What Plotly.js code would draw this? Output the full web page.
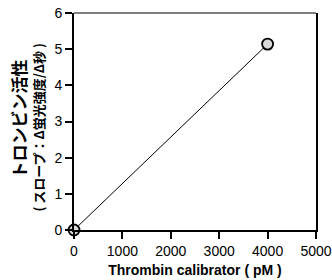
<!DOCTYPE html>
<html><head><meta charset="utf-8">
<script src="https://cdn.plot.ly/plotly-3.0.1.min.js"></script>
<style>html,body{margin:0;padding:0;background:#fff}#chart{width:332px;height:280px}</style>
</head><body><div id="chart"></div>
<script>
const xValues = [0, 4000];
const yValues = [0, 5.14];
const xTicks = [0, 1000, 2000, 3000, 4000, 5000];
const yTicks = [0, 1, 2, 3, 4, 5, 6];
const xTitle = 'Thrombin calibrator ( pM )';
const yTitle1 = 'トロンビン活性';
const yTitle2 = '( スロープ：Δ蛍光強度/Δ秒 )';

const trace = {
  x: xValues, y: yValues, type: 'scatter', mode: 'lines+markers',
  line: {color: '#000', width: 1},
  marker: {size: 11, color: '#d9d9d9', line: {color: '#000', width: 1.8}},
  cliponaxis: false, hoverinfo: 'none'
};
const fam = '"Liberation Sans", Arial, sans-serif';
const cjk = '"Noto Sans CJK JP", "Noto Sans CJK SC", sans-serif';
const layout = {
  width: 332, height: 280,
  margin: {l: 74, r: 16, t: 13, b: 50},
  paper_bgcolor: '#fff', plot_bgcolor: '#fff',
  showlegend: false, font: {family: fam, size: 14, color: '#000'},
  xaxis: {
    range: [0, 5000], tickvals: xTicks, ticktext: xTicks.map(String),
    showgrid: false, zeroline: false, showline: true, linecolor: '#000', linewidth: 2,
    ticks: 'outside', ticklen: 7, tickwidth: 2, tickcolor: '#000',
    tickfont: {family: fam, size: 14, color: '#000'},
    title: {text: '<b>' + xTitle + '</b>', font: {family: fam, size: 14, color: '#000'}, standoff: 7}
  },
  yaxis: {
    range: [0, 6], tickvals: yTicks, ticktext: yTicks.map(String),
    showgrid: false, zeroline: false, showline: true, linecolor: '#000', linewidth: 2, mirror: true,
    ticks: 'outside', ticklen: 7, tickwidth: 2, tickcolor: '#000',
    tickfont: {family: fam, size: 14, color: '#000'}
  },
  annotations: [
    {xref: 'paper', yref: 'paper', x: 0, y: 0.5, xanchor: 'center', yanchor: 'middle',
     xshift: -56.5, yshift: 2.5, textangle: -90, showarrow: false,
     text: '<b>' + yTitle1 + '</b>', font: {family: cjk, size: 17, color: '#000'}},
    {xref: 'paper', yref: 'paper', x: 0, y: 0.5, xanchor: 'center', yanchor: 'middle',
     xshift: -36, yshift: -6, textangle: -90, showarrow: false,
     text: '<b>' + yTitle2 + '</b>', font: {family: cjk, size: 13, color: '#000'}}
  ],
  shapes: [{type: 'line', xref: 'paper', yref: 'paper', x0: 0, x1: 1, y0: 1, y1: 1, line: {color: '#000', width: 1}}]
};
Plotly.newPlot('chart', [trace], layout, {staticPlot: true, displayModeBar: false});
</script></body></html>
